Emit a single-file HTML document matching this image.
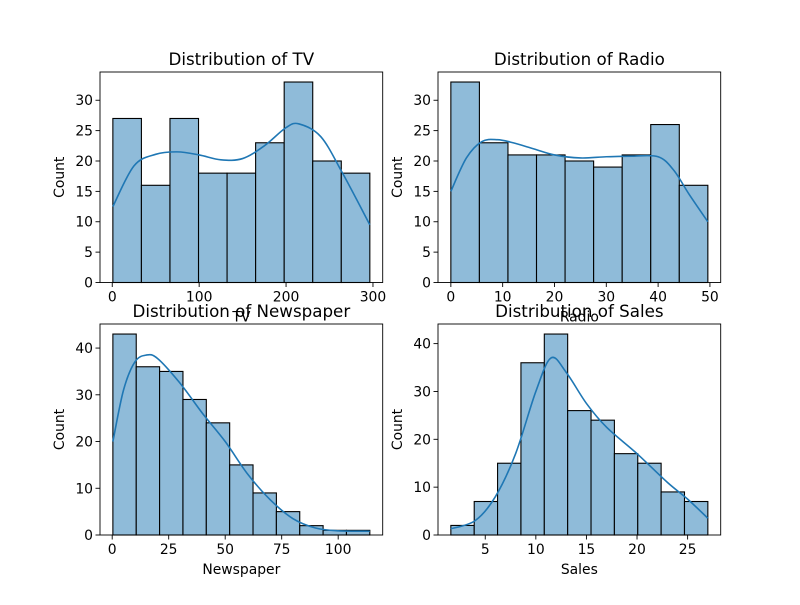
<!DOCTYPE html>
<html><head><meta charset="utf-8"><style>
body{margin:0;background:#fff}
svg{font-family:"DejaVu Sans","Liberation Sans",sans-serif}
</style></head><body>
<svg id="fig" width="800" height="600" viewBox="0 0 800 600"></svg>
<script>
// ---- data ----
const tvCounts=[27,16,27,18,18,23,33,20,18];
const tvRange=[0.7,296.4];
const tvKdeX=[0.7,25,50,75,100,125,150,175,200,215,240,265,296.4];
const tvKdeY=[12.5,19.2,21.1,21.5,21.0,20.2,20.4,22.5,25.5,26.1,24,18,9.5];
const tvXTicks=[0,100,200,300];
const tvYTicks=[0,5,10,15,20,25,30];

const radioCounts=[33,23,21,21,20,19,21,26,16];
const radioRange=[0,49.6];
const radioKdeX=[0,3,6,9,12,16,20,25,30,35,40,43,46,49.6];
const radioKdeY=[15,20.5,23.2,23.5,23,22,21,20.5,20.7,20.8,20.7,18.5,14.5,10];
const radioXTicks=[0,10,20,30,40,50];
const radioYTicks=[0,5,10,15,20,25,30];

const newsCounts=[43,36,35,29,24,15,9,5,2,1,1];
const newsRange=[0.3,114];
const newsKdeX=[0.3,5,10,15,20,30,40,50,60,70,80,90,100,114];
const newsKdeY=[20,31,37,38.5,37.8,32.5,26,20,13,7.5,3.5,1.5,0.9,0.8];
const newsXTicks=[0,25,50,75,100];
const newsYTicks=[0,10,20,30,40];

const salesCounts=[2,7,15,36,42,26,24,17,15,9,7];
const salesRange=[1.6,27];
const salesKdeX=[1.6,4,6,8,10,11.5,13,15,17,20,23,25,27];
const salesKdeY=[1.3,3,8,17,30,37,34,27.5,22.5,17,11,7.5,3.5];
const salesXTicks=[5,10,15,20,25];
const salesYTicks=[0,10,20,30,40];

const NS="http://www.w3.org/2000/svg";
const fig=document.getElementById('fig');
function el(tag,attrs,parent){const e=document.createElementNS(NS,tag);for(const k in attrs)e.setAttribute(k,attrs[k]);(parent||fig).appendChild(e);return e;}
function catmull(pts){let d='M'+pts[0][0]+','+pts[0][1];for(let i=0;i<pts.length-1;i++){const p0=pts[i-1]||pts[i],p1=pts[i],p2=pts[i+1],p3=pts[i+2]||p2;d+=' C'+(p1[0]+(p2[0]-p0[0])/6)+','+(p1[1]+(p2[1]-p0[1])/6)+' '+(p2[0]-(p3[0]-p1[0])/6)+','+(p2[1]-(p3[1]-p1[1])/6)+' '+p2[0]+','+p2[1];}return d;}

function panel(key,title,xlabel,box,xdom,counts,range,kx,ky,xt,yt){
  const [L,T,R,B]=box;
  const g=el('g',{});
  
  
  const ymax=Math.max(...counts)*1.05;
  const sx=v=>L+(v-xdom[0])/(xdom[1]-xdom[0])*(R-L);
  const sy=v=>B-v/ymax*(B-T);
  const n=counts.length,w=(range[1]-range[0])/n;
  counts.forEach((c,i)=>{
    const x0=sx(range[0]+i*w),x1=sx(range[0]+(i+1)*w);
    const r=el('rect',{x:x0,y:sy(c),width:x1-x0,height:sy(0)-sy(c),fill:'#8fbbd9',stroke:'#000','stroke-width':1.1},g);
    
    
  });
  const pts=kx.map((v,i)=>[sx(v),sy(ky[i])]);
  const p=el('path',{d:catmull(pts),fill:'none',stroke:'#1f77b4','stroke-width':1.6},g);
  
  
  const f=el('rect',{x:L,y:T,width:R-L,height:B-T,fill:'none',stroke:'#000','stroke-width':0.9},g);
  
  
  xt.forEach(v=>{const x=sx(v);el('line',{x1:x,x2:x,y1:B,y2:B+4.5,stroke:'#000','stroke-width':0.9},g);
    const t=el('text',{x:x,y:B+19,'font-size':13.9,'text-anchor':'middle',fill:'#000'},g);t.textContent=v;
    
    });
  yt.forEach(v=>{const y=sy(v);el('line',{x1:L-4.5,x2:L,y1:y,y2:y,stroke:'#000','stroke-width':0.9},g);
    const t=el('text',{x:L-7,y:y+5,'font-size':13.9,'text-anchor':'end',fill:'#000'},g);t.textContent=v;
    
    });
  const tt=el('text',{x:(L+R)/2,y:T-7,'font-size':16.7,'text-anchor':'middle',fill:'#000'},g);tt.textContent=title;
  
  
  const xl=el('text',{x:(L+R)/2,y:B+39,'font-size':13.9,'text-anchor':'middle',fill:'#000'},g);xl.textContent=xlabel;
  
  
  const yl=el('text',{x:0,y:0,'font-size':13.9,'text-anchor':'middle',fill:'#000',transform:'translate('+(L-36)+','+((T+B)/2)+') rotate(-90)'},g);yl.textContent='Count';
  
  
}
panel('tv','Distribution of TV','TV',[100,72,382.7,282.5],[-14.1,311.2],tvCounts,tvRange,tvKdeX,tvKdeY,tvXTicks,tvYTicks);
panel('radio','Distribution of Radio','Radio',[438,72,720.7,282.5],[-2.48,52.08],radioCounts,radioRange,radioKdeX,radioKdeY,radioXTicks,radioYTicks);
panel('newspaper','Distribution of Newspaper','Newspaper',[100,324,382.7,535],[-5.4,119.7],newsCounts,newsRange,newsKdeX,newsKdeY,newsXTicks,newsYTicks);
panel('sales','Distribution of Sales','Sales',[438,324,720.7,535],[0.33,28.27],salesCounts,salesRange,salesKdeX,salesKdeY,salesXTicks,salesYTicks);
</script>
</body></html>
